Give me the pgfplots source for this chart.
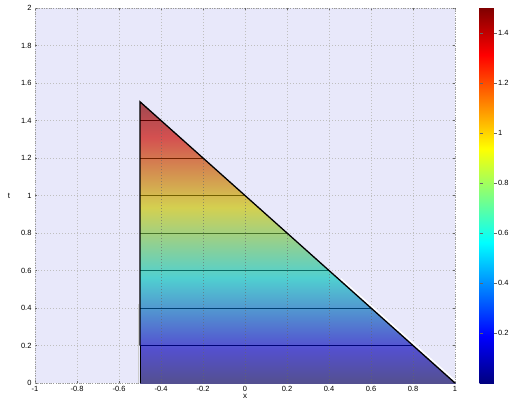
\documentclass[border=0pt]{standalone}
\usepackage{fontspec}
\setmainfont{Liberation Sans}
\usepackage{pgfplots}
\pgfplotsset{compat=1.18}
\definecolor{bgl}{HTML}{E8E8FA}
\definecolor{c02}{RGB}{0,4,120}
\definecolor{c04}{RGB}{0,65,115}
\definecolor{c06}{RGB}{11,110,103}
\definecolor{c08}{RGB}{70,115,42}
\definecolor{c10}{RGB}{115,96,0}
\definecolor{c12}{RGB}{115,35,0}
\definecolor{c14}{RGB}{88,0,0}
\pgfplotsset{colormap={fadedjet}{rgb255(0cm)=(84,80,144) rgb255(1cm)=(84,80,208) rgb255(3cm)=(80,208,208) rgb255(5cm)=(212,208,80) rgb255(7cm)=(212,80,80) rgb255(8cm)=(160,72,80)}}
\begin{document}
\begin{tikzpicture}
\useasboundingbox (-35pt,-27pt) rectangle (475pt,383pt);
\begin{axis}[
  at={(0,0)}, anchor=south west,
  scale only axis, width=420pt, height=375pt,
  xmin=-1, xmax=1, ymin=0, ymax=2,
  xtick={-1,-0.8,...,1}, ytick={0,0.2,...,2},
  xticklabels={-1,-0.8,-0.6,-0.4,-0.2,0,0.2,0.4,0.6,0.8,1},
  yticklabels={0,0.2,0.4,0.6,0.8,1,1.2,1.4,1.6,1.8,2},
  /pgf/number format/assume math mode=true,
  tick label style={font=\fontsize{7.5}{9}\selectfont},
  label style={font=\fontsize{8}{9}\selectfont},
  xlabel={x}, ylabel={t},
  xlabel style={yshift=4pt},
  ylabel style={rotate=-90, xshift=-4pt},
  grid=major,
  major grid style={dash pattern=on 0.8pt off 2.2pt, gray!50, line width=0.5pt},
  axis line style={dash pattern=on 0.8pt off 1.5pt, gray!80},
  tick style={black!60},
  major tick length=2pt,
  axis background/.style={fill=bgl},
  colormap/jet,
  point meta min=0, point meta max=1.5,
  colorbar,
  colorbar style={
    at={(parent axis.north east)}, anchor=north west, xshift=16pt,
    width=17pt,
    ytick={0.2,0.4,...,1.4},
    yticklabels={0.2,0.4,0.6,0.8,1,1.2,1.4},
    yticklabel style={font=\fontsize{7.5}{9}\selectfont, xshift=-2pt},
    axis line style={draw=none},
    major tick length=3pt,
    tick style={black!60},
  },
]
\addplot[patch, shader=interp, colormap name=fadedjet, point meta=explicit] coordinates {
 (-0.5,0) [0] (1,0) [0] (-0.5,1.5) [1.5]
};
% grid lines seen through the coloured region
\addplot[black!60, opacity=0.6, dash pattern=on 0.8pt off 2.2pt, line width=0.5pt] coordinates {(-0.4,0) (-0.4,1.4)};
\addplot[black!60, opacity=0.6, dash pattern=on 0.8pt off 2.2pt, line width=0.5pt] coordinates {(-0.2,0) (-0.2,1.2)};
\addplot[black!60, opacity=0.6, dash pattern=on 0.8pt off 2.2pt, line width=0.5pt] coordinates {(0,0) (0,1)};
\addplot[black!60, opacity=0.6, dash pattern=on 0.8pt off 2.2pt, line width=0.5pt] coordinates {(0.2,0) (0.2,0.8)};
\addplot[black!60, opacity=0.6, dash pattern=on 0.8pt off 2.2pt, line width=0.5pt] coordinates {(0.4,0) (0.4,0.6)};
\addplot[black!60, opacity=0.6, dash pattern=on 0.8pt off 2.2pt, line width=0.5pt] coordinates {(0.6,0) (0.6,0.4)};
\addplot[black!60, opacity=0.6, dash pattern=on 0.8pt off 2.2pt, line width=0.5pt] coordinates {(0.8,0) (0.8,0.2)};
% contour lines
\addplot[c02, line width=0.8pt] coordinates {(-0.5,0.2) (0.8,0.2)};
\addplot[c04, line width=0.8pt] coordinates {(-0.5,0.4) (0.6,0.4)};
\addplot[c06, line width=0.8pt] coordinates {(-0.5,0.6) (0.4,0.6)};
\addplot[c08, line width=0.8pt] coordinates {(-0.5,0.8) (0.2,0.8)};
\addplot[c10, line width=0.8pt] coordinates {(-0.5,1.0) (0.0,1.0)};
\addplot[c12, line width=0.8pt] coordinates {(-0.5,1.2) (-0.2,1.2)};
\addplot[c14, line width=0.8pt] coordinates {(-0.5,1.4) (-0.4,1.4)};
% halo on the lower hypotenuse and left edge
\addplot[white, line width=1.6pt, xshift=1.2pt, yshift=1.2pt] coordinates {(0.45,0.55) (1,0)};
\addplot[gray!40, line width=0.8pt] coordinates {(-0.51,0) (-0.51,0.42)};
% outline
\addplot[black, line width=1.3pt] coordinates {(-0.5,0.2) (-0.5,1.5) (1,0)};
\addplot[black, line width=0.8pt] coordinates {(-0.5,0.0) (-0.5,0.2)};
\end{axis}
\end{tikzpicture}
\end{document}
